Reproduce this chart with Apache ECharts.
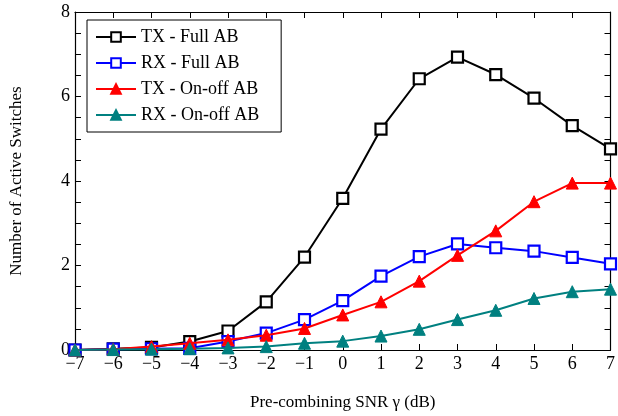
<!DOCTYPE html>
<html style="height: 100%">
<head>
	<meta charset="utf-8">
	<title>Active Switches vs SNR</title>
	<script src="https://cdn.jsdelivr.net/npm/echarts@6/dist/echarts.min.js"></script>
</head>
<body style="height: 100%; margin: 0">
	<div id="main" style="width: 618px; height: 416px"></div>
	<script type="text/javascript">

		// pre-combining SNR in dB
		var snr = [-7, -6, -5, -4, -3, -2, -1, 0, 1, 2, 3, 4, 5, 6, 7];

		var txFull  = [0, 0.03, 0.06, 0.2, 0.45, 1.14, 2.2, 3.59, 5.23, 6.42, 6.93, 6.52, 5.96, 5.31, 4.76];
		var rxFull  = [0, 0.02, 0.03, 0.04, 0.2, 0.4, 0.72, 1.17, 1.75, 2.21, 2.51, 2.42, 2.34, 2.19, 2.04];
		var txOnoff = [0, 0.02, 0.08, 0.16, 0.24, 0.35, 0.51, 0.83, 1.14, 1.63, 2.24, 2.82, 3.51, 3.95, 3.95];
		var rxOnoff = [0, 0.01, 0.02, 0.03, 0.05, 0.08, 0.16, 0.21, 0.33, 0.49, 0.72, 0.94, 1.22, 1.38, 1.44];

		var font = '"Liberation Serif", "DejaVu Serif", serif';

		var pairs = function(ys){
			return snr.map(function(x, i){ return [x, ys[i]]; });
		};

		var mkSeries = function(name, ys, color, symbol){
			var hollow = symbol === 'rect';
			return {
				name: name,
				type: 'line',
				data: pairs(ys),
				symbol: symbol,
				symbolSize: hollow ? 11 : 12,
				showAllSymbol: true,
				lineStyle: { color: color, width: 2 },
				itemStyle: hollow ? { color: '#fff', borderColor: color, borderWidth: 2.2 } : { color: color, borderColor: color, borderWidth: 1 },
				emphasis: { disabled: true },
				z: hollow ? 3 : 4
			};
		};

		var chart = echarts.init(document.getElementById('main'));
		chart.setOption({
			animation: false,
			backgroundColor: '#fff',
			textStyle: { fontFamily: font },
			grid: { left: 74, right: 5, top: 12, bottom: 64, containLabel: false },
			legend: {
				orient: 'vertical',
				left: 87,
				top: 20,
				padding: [8, 22, 8, 8],
				itemGap: 8,
				itemWidth: 40,
				itemHeight: 12,
				backgroundColor: '#fff',
				borderColor: '#000',
				borderWidth: 1,
				textStyle: { fontFamily: font, fontSize: 18, color: '#000', lineHeight: 18 },
				data: ['TX - Full AB', 'RX - Full AB', 'TX - On-off AB', 'RX - On-off AB']
			},
			xAxis: [{
				type: 'value',
				min: -7, max: 7, interval: 1,
				name: 'Pre-combining SNR γ (dB)',
				nameLocation: 'middle',
				nameGap: 44,
				nameTextStyle: { fontFamily: font, fontSize: 17, color: '#000' },
				axisLine: { onZero: false, lineStyle: { color: '#000', width: 1.2 } },
				axisTick: { inside: true, length: 6, lineStyle: { color: '#000' } },
				axisLabel: {
					fontFamily: font, fontSize: 18, color: '#000', margin: 5,
					formatter: function(v){ return String(v).replace('-', '\u2212'); }
				},
				splitLine: { show: false }
			}, {
				type: 'value',
				position: 'top',
				min: -7, max: 7, interval: 1,
				axisLine: { onZero: false, lineStyle: { color: '#000', width: 1.2 } },
				axisTick: { inside: true, length: 6, lineStyle: { color: '#000' } },
				axisLabel: { show: false },
				splitLine: { show: false }
			}],
			yAxis: [{
				type: 'value',
				min: 0, max: 8, interval: 2,
				name: 'Number of Active Switches',
				nameLocation: 'middle',
				nameGap: 50,
				nameTextStyle: { fontFamily: font, fontSize: 17, color: '#000' },
				axisLine: { show: true, onZero: false, lineStyle: { color: '#000', width: 1.2 } },
				axisTick: { show: true, inside: true, length: 6, lineStyle: { color: '#000' } },
				minorTick: { show: true, splitNumber: 4, length: 6, lineStyle: { color: '#000' } },
				axisLabel: { fontFamily: font, fontSize: 18, color: '#000', margin: 5 },
				splitLine: { show: false }
			}, {
				type: 'value',
				position: 'right',
				min: 0, max: 8, interval: 2,
				axisLine: { show: true, onZero: false, lineStyle: { color: '#000', width: 1.2 } },
				axisTick: { show: true, inside: true, length: 6, lineStyle: { color: '#000' } },
				minorTick: { show: true, splitNumber: 4, length: 6, lineStyle: { color: '#000' } },
				axisLabel: { show: false },
				splitLine: { show: false }
			}],
			series: [
				mkSeries('TX - Full AB', txFull, '#000000', 'rect'),
				mkSeries('RX - Full AB', rxFull, '#0000ff', 'rect'),
				mkSeries('TX - On-off AB', txOnoff, '#ff0000', 'triangle'),
				mkSeries('RX - On-off AB', rxOnoff, '#008080', 'triangle')
			]
		});
	</script>
</body>
</html>
